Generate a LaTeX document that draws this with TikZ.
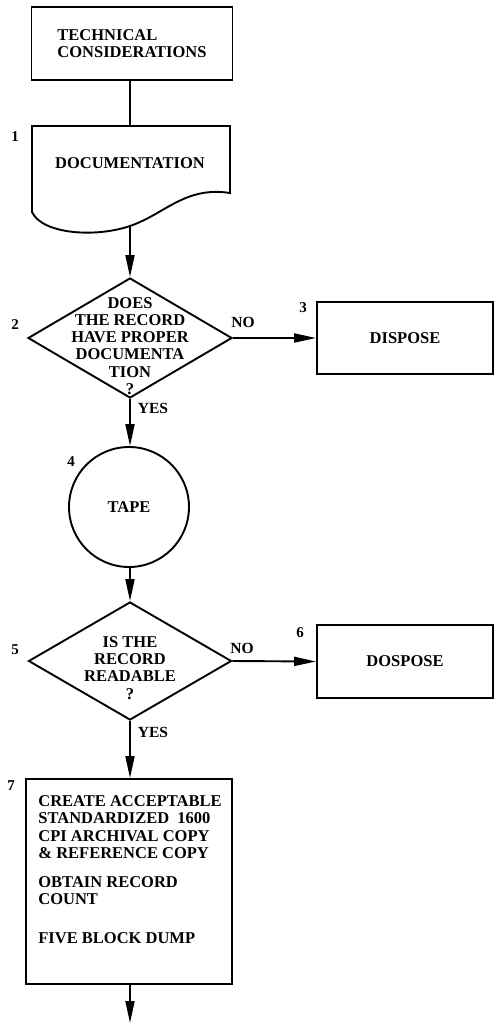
\documentclass[tikz,border=0pt]{standalone}
\usepackage{fontspec}
\setmainfont{Liberation Serif}
\usetikzlibrary{arrows.meta,positioning,shapes.geometric,calc}

\begin{document}
\begin{tikzpicture}[x=1pt, y=-1pt,
  font=\fontsize{16.5}{17.2}\selectfont\bfseries,
  line width=1.9pt,
  box/.style={draw, align=center, inner sep=0pt},
  dec/.style={draw, diamond, inner sep=0pt,
              minimum width=204pt, minimum height=120pt},
  txt/.style={align=center, inner sep=0pt},
  num/.style={inner sep=0pt, font=\fontsize{15}{15}\selectfont\bfseries},
  lbl/.style={inner sep=0pt, font=\fontsize{15.5}{15.5}\selectfont\bfseries},
  arr/.style={-{Triangle[length=22pt, width=9pt]}}]

\useasboundingbox (0,0) rectangle (494,1024);

% column of steps
\node[box, align=left, minimum width=201pt, minimum height=73pt] (tech)
     at (132,43.5) {TECHNICAL\\CONSIDERATIONS};

\node[txt] (doc) at (130,163) {DOCUMENTATION};
\draw (32,126) -- (230,126) -- (230,193)
   .. controls (185,186) and (165,214) .. (130,226)
   .. controls (95,238) and (42,234) .. (32,212) -- cycle;
\coordinate (doctop) at (130,126);
\coordinate (docend) at (130,226);

\node[dec] (q1) at (130,338) {};
\node[txt] (q1txt) at (130,346)
     {DOES\\THE RECORD\\HAVE PROPER\\DOCUMENTA\\TION\\?};
\node[box, minimum width=176pt, minimum height=72pt] (disp1)
     at (405,338) {DISPOSE};

\node[draw, circle, inner sep=0pt, minimum size=120pt] (tape)
     at (129,507) {TAPE};

\node[dec, minimum width=203pt, minimum height=118pt] (q2) at (130,661) {};
\node[txt] (q2txt) at (130,668) {IS THE\\RECORD\\READABLE\\?};
\node[box, minimum width=176pt, minimum height=73pt] (disp2)
     at (405,661.5) {DOSPOSE};

\node[box, minimum width=206pt, minimum height=205pt] (rec) at (129,881.5) {};
\node[txt, align=left] (rectxt) at (130,870)
     {CREATE ACCEPTABLE\\STANDARDIZED\ \ 1600\\CPI ARCHIVAL COPY\\
      \& REFERENCE COPY\\[12pt]OBTAIN RECORD\\COUNT\\[22pt]FIVE BLOCK DUMP};
\coordinate (out) at (130,1023);

% step numbers
\node[num] (n1) at (15,137) {1};
\node[num] (n2) at (15,325) {2};
\node[num] (n3) at (303,308) {3};
\node[num] (n4) at (71,462) {4};
\node[num] (n5) at (15,650) {5};
\node[num] (n6) at (300,633) {6};
\node[num] (n7) at (11,786) {7};

% flow
\draw (tech.south -| doctop) -- (doctop);
\draw[arr] (docend) -- (q1.north);
\draw[arr] (q1.east) -- (disp1.west);
\draw[arr] (q1.south) -- (q1.south |- tape.north);
\draw[arr] (tape.south -| q2.north) -- (q2.north);
\draw[arr] (q2.east) -- (disp2.west);
\draw[arr] (q2.south) -- (q2.south |- rec.north);
\draw[arr] (rec.south -| out) -- (out);

\node[lbl] (no1) at (243,322) {NO};
\node[lbl] (yes1) at (153,408) {YES};
\node[lbl] (no2) at (242,648) {NO};
\node[lbl] (yes2) at (153,732) {YES};
\end{tikzpicture}
\end{document}
